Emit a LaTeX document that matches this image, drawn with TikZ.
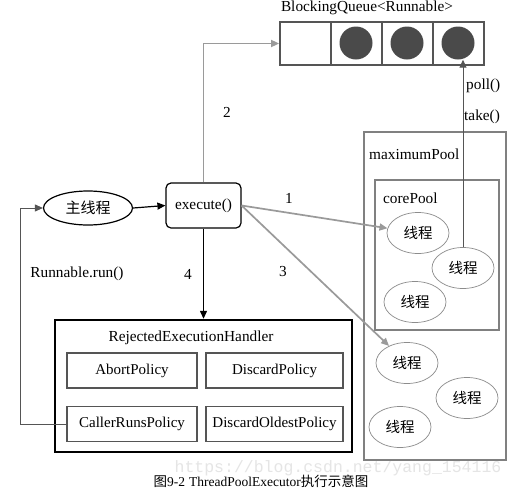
\documentclass[tikz,border=0pt]{standalone}
\usepackage{fontspec}
\setmainfont{Liberation Serif}
\newfontfamily\cjk{Noto Sans CJK SC}
\newfontfamily\wmono{Liberation Mono}
\usetikzlibrary{arrows.meta,shapes.geometric}
\definecolor{arrgray}{HTML}{9A9A9A}
\definecolor{boxgray}{HTML}{555555}
\definecolor{poolgray}{HTML}{808080}
\definecolor{dotgray}{HTML}{4A4A4A}
\definecolor{thrgray}{HTML}{8C8C8C}
\begin{document}
\begin{tikzpicture}[x=1pt,y=-1pt,
  lat/.style={font=\fontsize{15.3}{17}\selectfont, inner sep=0pt},
  cell/.style={draw=boxgray, line width=1.8pt, minimum width=51pt, minimum height=43pt, inner sep=0pt},
  dot/.style={circle, fill=dotgray, minimum size=33pt, inner sep=0pt},
  thr/.style={ellipse, draw=thrgray, line width=0.7pt, minimum width=62pt, minimum height=41pt, inner sep=0pt, font=\cjk\fontsize{14.5}{16}\selectfont},
  pol/.style={draw=boxgray, line width=1.8pt, minimum width=130pt, minimum height=35pt, inner sep=0pt, font=\fontsize{15}{17}\selectfont},
  pol2/.style={pol, minimum width=137pt},
  garr/.style={arrgray, line width=1.7pt, -{Triangle[length=8pt,width=7pt]}},
  barr/.style={black, line width=1.2pt, -{Triangle[length=8pt,width=7pt]}},
  pool/.style={draw=poolgray, line width=2.2pt, inner sep=0pt}
]
\useasboundingbox (0,0) rectangle (514,493);
\fill[white] (0,0) rectangle (514,493);

% watermark
\node[font=\wmono\fontsize{16.5}{18}\selectfont, text=black!10, inner sep=0pt] (wm) at (338,468) {https://blog.csdn.net/yang\_154116};

% queue
\node[lat] (qt) at (367,8) {BlockingQueue<Runnable>};
\node[cell] (q1) at (305.5,43.5) {};
\node[cell] (q2) at (356.5,43.5) {};
\node[cell] (q3) at (407.5,43.5) {};
\node[cell] (q4) at (458.5,43.5) {};
\node[dot] (d2) at (356,43) {};
\node[dot] (d3) at (407,43) {};
\node[dot] (d4) at (458,43) {};

% main thread and execute
\node[ellipse, draw=black, line width=1.2pt, minimum width=89pt, minimum height=34pt, inner sep=0pt, font=\cjk\fontsize{15}{16}\selectfont] (main) at (88,208) {主线程};
\node[draw=black, line width=1.2pt, rounded corners=5pt, minimum width=75pt, minimum height=45pt, inner sep=0pt, lat] (exe) at (203.5,205.5) {execute()};

% pools
\node[pool, minimum width=142pt, minimum height=328pt] (maxp) at (435,296) {};
\node[lat, anchor=west] (maxl) at (369,154) {maximumPool};
\node[pool, minimum width=124pt, minimum height=150pt] (corep) at (437,255) {};
\node[lat, anchor=west] (corel) at (383,198) {corePool};

\node[thr] (t1) at (418,233) {线程};
\node[thr] (t2) at (463,268) {线程};
\node[thr] (t3) at (415,302) {线程};
\node[thr] (t4) at (407,363) {线程};
\node[thr] (t5) at (467,398) {线程};
\node[thr] (t6) at (400,427) {线程};

% rejected handler
\node[draw=black, line width=2.4pt, minimum width=297pt, minimum height=132pt, inner sep=0pt] (reh) at (203.5,386) {};
\node[lat] (rehl) at (191,338) {RejectedExecutionHandler};
\node[pol] (ap) at (132,370.5) {AbortPolicy};
\node[pol2] (dp) at (274.5,370.5) {DiscardPolicy};
\node[pol] (crp) at (132,424) {CallerRunsPolicy};
\node[pol2] (dop) at (274.5,424) {DiscardOldestPolicy};

% labels
\node[lat] (l1) at (289,198) {1};
\node[lat] (l2) at (227,112) {2};
\node[lat] (l3) at (283,272) {3};
\node[lat] (l4) at (188,274) {4};
\node[lat] (lrun) at (77,274) {Runnable.run()};
\node[lat, anchor=west] (lpoll) at (466,86) {poll()};
\node[lat, anchor=west] (ltake) at (464,117) {take()};

% connectors
\draw[barr] (main.east) -- (exe.west);
\draw[garr] (exe.north) |- (q1.west);
\draw[garr] (exe.east) -- (t1);
\draw[garr] (exe.east) -- (t4);
\draw[barr] (exe.south) -- (exe.south |- reh.north);
\coordinate (ret) at (20,424);
\draw[boxgray, line width=1pt] (crp.west) -- (ret);
\draw[barr, line width=0.9pt, draw=boxgray] (ret) |- (main.west);
\draw[boxgray, line width=1pt, -{Triangle[length=8pt,width=7pt]}] (t2.north) -- (t2.north |- d4.south);

% caption
\node[inner sep=0pt, font=\fontsize{13.5}{15}\selectfont] (cap) at (261,481) {{\cjk 图}9-2\hspace{4pt}ThreadPoolExecutor{\cjk 执行示意图}};
\end{tikzpicture}
\end{document}
